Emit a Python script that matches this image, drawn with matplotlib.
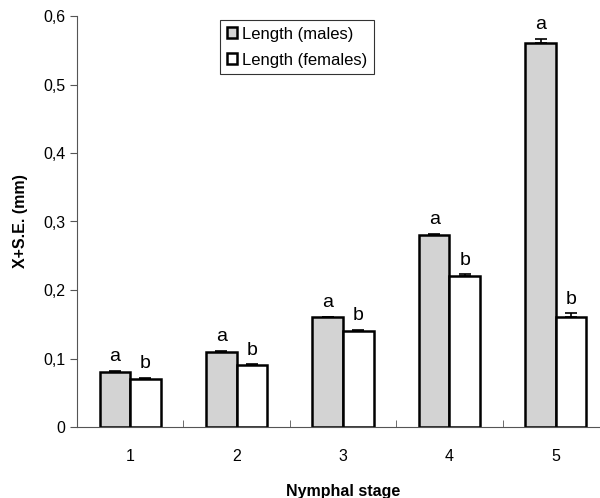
import numpy as np
import matplotlib.pyplot as plt

plt.rcParams['font.family'] = ['Liberation Sans', 'DejaVu Sans']

stages = ['1', '2', '3', '4', '5']
males = [0.08, 0.11, 0.16, 0.28, 0.56]
males_se = [0.002, 0.001, 0.001, 0.002, 0.007]
females = [0.07, 0.09, 0.14, 0.22, 0.16]
females_se = [0.002, 0.002, 0.002, 0.003, 0.006]
males_lbl = ['a', 'a', 'a', 'a', 'a']
females_lbl = ['b', 'b', 'b', 'b', 'b']

fig = plt.figure(figsize=(6, 4.98), dpi=100)
ax = fig.add_axes([77/600, 1 - 427/498, 532/600, 411/498])

x = np.arange(1, len(stages) + 1)
w = 0.287
ekw = dict(elinewidth=1.2, capthick=1.2, capsize=4, ecolor='black')
ax.bar(x - w/2, males, w, color='#d3d3d3', edgecolor='black', linewidth=1.8,
       yerr=[np.zeros(5), males_se], error_kw=ekw, label='Length (males)')
ax.bar(x + w/2, females, w, color='white', edgecolor='black', linewidth=1.8,
       yerr=[np.zeros(5), females_se], error_kw=ekw, label='Length (females)')

for i in range(len(stages)):
    ax.text(x[i] - w/2, males[i] + males_se[i] + 0.008, males_lbl[i],
            ha='center', va='bottom', fontsize=14)
    ax.text(x[i] + w/2, females[i] + females_se[i] + 0.008, females_lbl[i],
            ha='center', va='bottom', fontsize=14)

ax.set_xlim(0.5, 5.5)
ax.set_ylim(0, 0.6)
ax.set_yticks(np.arange(0, 0.61, 0.1))
ax.set_yticklabels(['0', '0,1', '0,2', '0,3', '0,4', '0,5', '0,6'], fontsize=11.5)
ax.set_xticks(x)
ax.set_xticklabels(stages, fontsize=11.5)
ax.set_xticks(np.arange(1.5, 5.5, 1), minor=True)
ax.tick_params(axis='x', which='major', length=0, pad=16)
ax.tick_params(axis='x', which='minor', length=5, direction='in', color='#555555')
ax.tick_params(axis='y', length=5, color='#555555')

for s in ['top', 'right']:
    ax.spines[s].set_visible(False)
ax.spines['left'].set_color('#555555')
ax.spines['bottom'].set_color('#555555')

ax.set_ylabel('X+S.E. (mm)', fontsize=11.5, fontweight='bold', labelpad=11)
ax.set_xlabel('Nymphal stage', fontsize=11.5, fontweight='bold', labelpad=14)

leg = ax.legend(loc='upper left', bbox_to_anchor=(143/532, 1 - 4/411), fontsize=12,
                frameon=True, fancybox=False, edgecolor='black', handlelength=0.6,
                handleheight=0.6, handletextpad=0.3, borderpad=0.4, labelspacing=0.65,
                borderaxespad=0)
leg.get_frame().set_linewidth(0.8)

fig.savefig('out.png', dpi=100)
